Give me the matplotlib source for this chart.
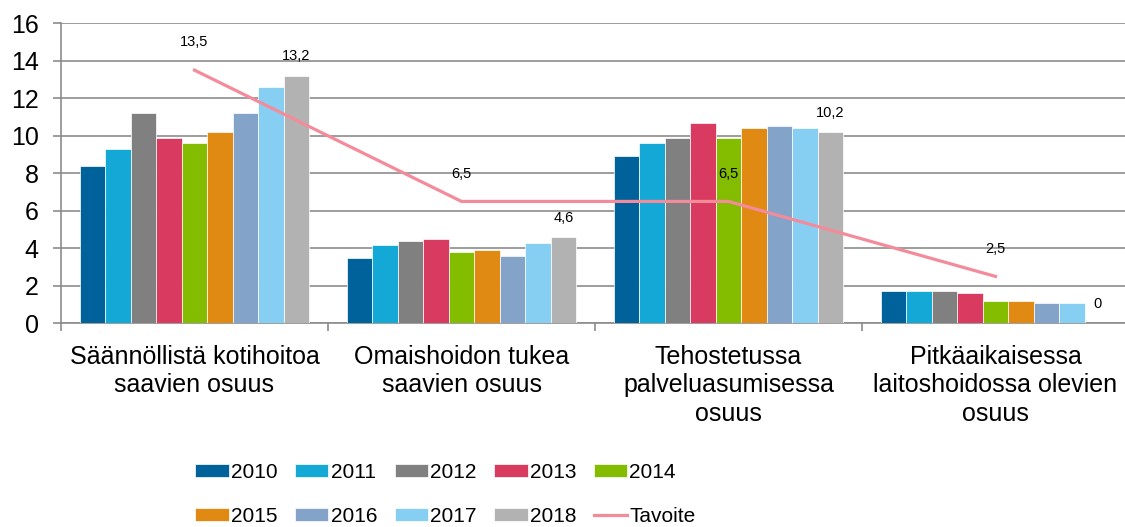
import matplotlib.pyplot as plt
import numpy as np

plt.rcParams['font.family'] = ['Liberation Sans', 'DejaVu Sans']

# data
categories = ["Säännöllistä kotihoitoa\nsaavien osuus",
              "Omaishoidon tukea\nsaavien osuus",
              "Tehostetussa\npalveluasumisessa\nosuus",
              "Pitkäaikaisessa\nlaitoshoidossa olevien\nosuus"]
years = ["2010", "2011", "2012", "2013", "2014", "2015", "2016", "2017", "2018"]
v2010 = [8.4, 3.5, 8.9, 1.7]
v2011 = [9.3, 4.2, 9.6, 1.7]
v2012 = [11.2, 4.4, 9.9, 1.7]
v2013 = [9.9, 4.5, 10.7, 1.6]
v2014 = [9.6, 3.8, 9.9, 1.2]
v2015 = [10.2, 3.9, 10.4, 1.2]
v2016 = [11.2, 3.6, 10.5, 1.1]
v2017 = [12.6, 4.3, 10.4, 1.1]
v2018 = [13.2, 4.6, 10.2, 0.0]
tavoite = [13.5, 6.5, 6.5, 2.5]

series = [v2010, v2011, v2012, v2013, v2014, v2015, v2016, v2017, v2018]
colors = ["#00629B", "#13A8D6", "#808080", "#D93A60", "#84BC00",
          "#E08A13", "#84A3C9", "#86CEF2", "#B2B2B2"]
line_color = "#F48B9B"


def fi(v):
    return "0" if v == 0 else f"{v:.1f}".replace(".", ",")


fig = plt.figure(figsize=(11.25, 5.27), dpi=100)
ax = fig.add_axes([61 / 1125, 1 - 323.3 / 527, 1068 / 1125, 300 / 527])

x = np.arange(len(categories))
n = len(series)
bw = 0.858 / n
for i, (vals, c, yr) in enumerate(zip(series, colors, years)):
    pos = x - 0.429 + bw * (i + 0.5)
    ax.bar(pos, vals, width=bw, color=c, edgecolor="white", linewidth=0.5,
           label=yr, zorder=3)
    if yr == "2018":
        for px, v in zip(pos, vals):
            ax.annotate(fi(v), (px, v), xytext=(0, 14), textcoords="offset points",
                        ha="center", va="center", fontsize=10.5)

ax.plot(x, tavoite, color=line_color, linewidth=2.3, label="Tavoite", zorder=4)
for px, v in zip(x, tavoite):
    ax.annotate(fi(v), (px, v), xytext=(0, 20), textcoords="offset points",
                ha="center", va="center", fontsize=10.5)

ax.set_xlim(-0.5, 3.5)
ax.set_ylim(0, 16)
ax.set_yticks(np.arange(0, 17, 2))
ax.yaxis.grid(True, color="#8c8c8c", linewidth=1.2, zorder=0)
ax.set_axisbelow(True)

ax.set_xticks(np.arange(-0.5, 4, 1))
ax.set_xticklabels([])
ax.set_xticks(x, minor=True)
ax.set_xticklabels(categories, minor=True, fontsize=18, linespacing=1.24)
ax.tick_params(axis="x", which="major", length=6, color="#8c8c8c", width=1.2)
ax.tick_params(axis="x", which="minor", length=0, pad=15.5)
ax.tick_params(axis="y", length=6, color="#8c8c8c", width=1.2, labelsize=18, pad=10)

for s in ["top", "right"]:
    ax.spines[s].set_visible(False)
for s in ["left", "bottom"]:
    ax.spines[s].set_color("#8c8c8c")
    ax.spines[s].set_linewidth(1.2)

handles, labels = ax.get_legend_handles_labels()
# put Tavoite last, then reorder so legend fills row by row
handles = handles[1:] + handles[:1]
labels = labels[1:] + labels[:1]
order = [0, 5, 1, 6, 2, 7, 3, 8, 4, 9]
handles = [handles[k] for k in order]
labels = [labels[k] for k in order]
fig.legend(handles, labels, loc="center", bbox_to_anchor=(0.396, 0.062), ncol=5,
           frameon=False, fontsize=15, handlelength=1.6, handleheight=0.63,
           handletextpad=0.1, columnspacing=0.85, labelspacing=1.2)

fig.savefig("out.png", dpi=100)
